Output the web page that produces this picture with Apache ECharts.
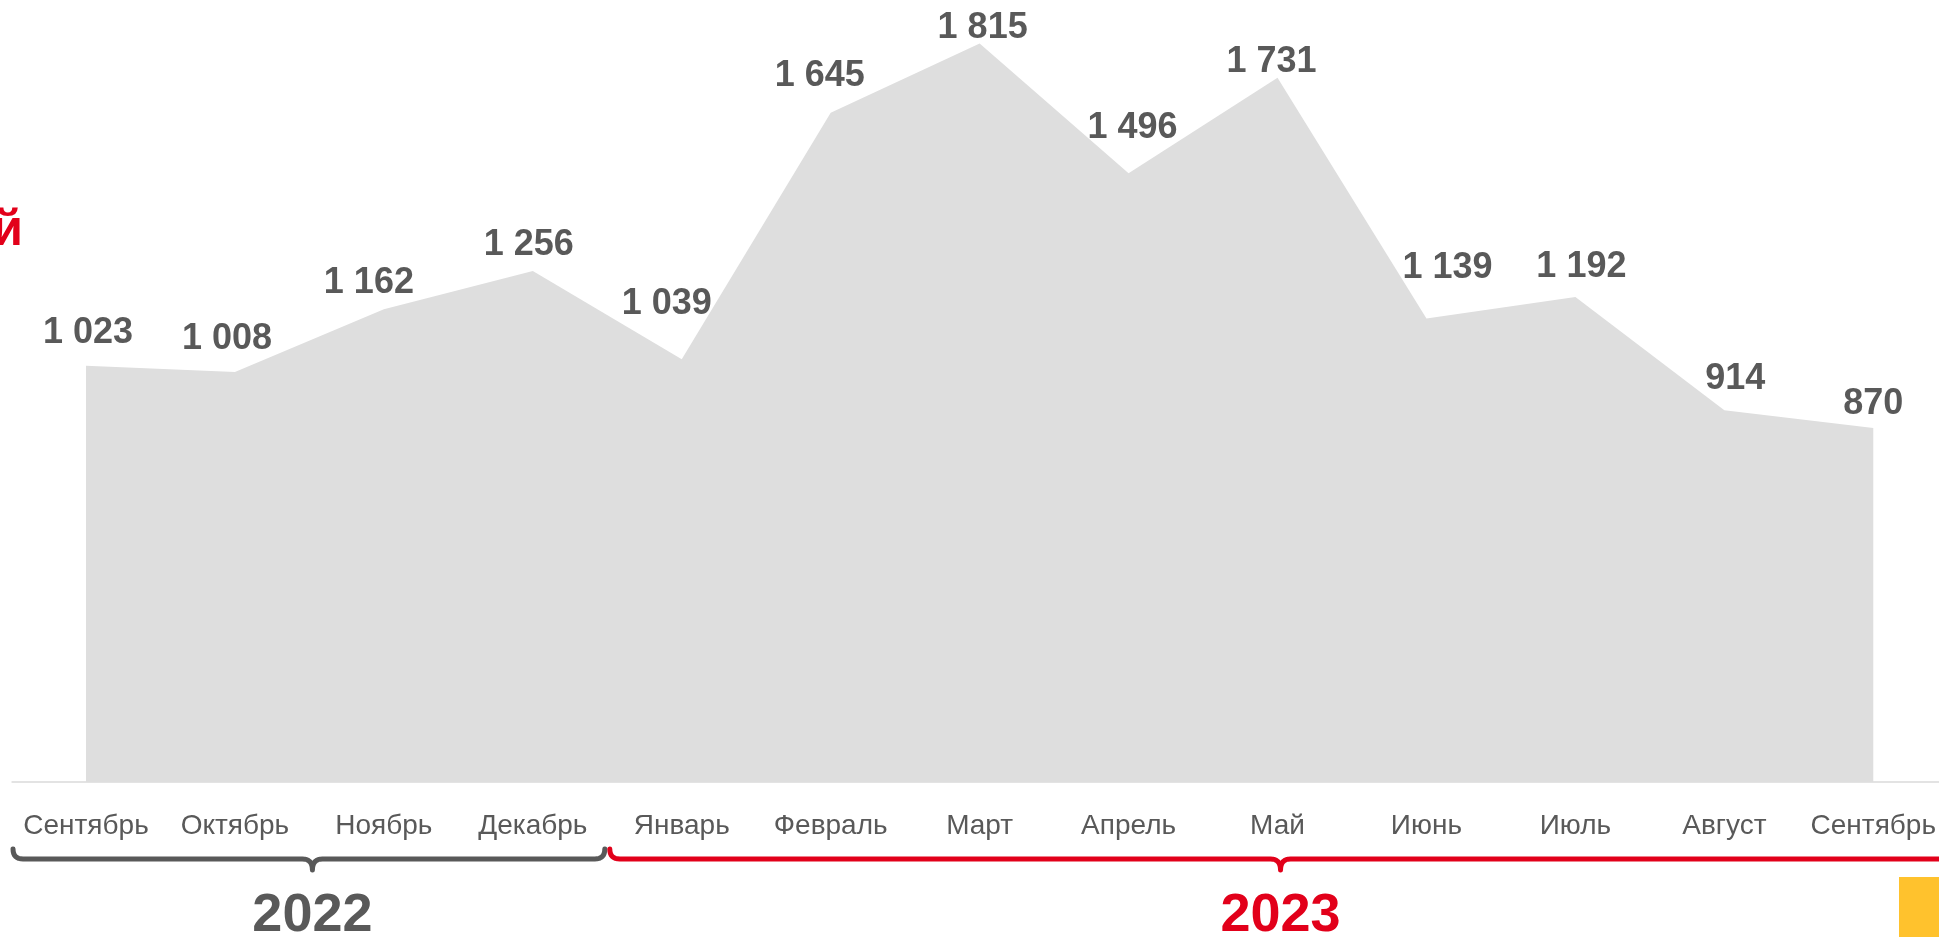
<!DOCTYPE html>
<html>
<head>
<meta charset="utf-8">
<script src="https://cdn.jsdelivr.net/npm/echarts@6/dist/echarts.min.js"></script>
<style>
html,body{margin:0;padding:0;background:#fff;}
#c{width:1939px;height:937px;}
</style>
</head>
<body>
<div id="c"></div>
<script>
// ---- data ----
var categories = ['Сентябрь','Октябрь','Ноябрь','Декабрь','Январь','Февраль','Март','Апрель','Май','Июнь','Июль','Август','Сентябрь'];
var values = [1023, 1008, 1162, 1256, 1039, 1645, 1815, 1496, 1731, 1139, 1192, 914, 870];
var years = ['2022', '2023'];
var yearMonthCounts = [4, 9];

// ---- styling ----
var GRAY = '#595959';
var RED = '#e2001a';
var FONT = '"Liberation Sans", Arial, Helvetica, sans-serif';

function fmt(v) {
  return String(v).replace(/\B(?=(\d{3})+(?!\d))/g, ' ');
}

// label nudges (pure styling: where each value label sits relative to its point)
function labelNudge(i) {
  var n = [[2,-14],[-8,-14],[-15,-8],[-4,-7],[-15,-37],[-11,-18],[3,3],[4,-27],[-6,3],[21,-32],[6,-11],[11,-13],[0,-5]];
  return n[i] || [0, -10];
}

var chart = echarts.init(document.getElementById('c'), null, {renderer: 'canvas'});

var seriesData = values.map(function (v, i) {
  return { value: v, label: { offset: labelNudge(i) } };
});

chart.setOption({
  animation: false,
  backgroundColor: '#ffffff',
  grid: { left: 86, top: 9, right: 65, bottom: 155, containLabel: false },
  xAxis: {
    type: 'category',
    data: categories,
    boundaryGap: false,
    axisTick: { show: false },
    axisLine: { show: false },
    axisLabel: {
      interval: 0,
      color: GRAY,
      fontSize: 28,
      lineHeight: 28,
      fontFamily: FONT,
      margin: 30
    },
    splitLine: { show: false }
  },
  yAxis: {
    type: 'value',
    min: 0,
    max: 1900,
    show: false,
    splitLine: { show: false }
  },
  series: [{
    type: 'line',
    data: seriesData,
    symbol: 'circle',
    symbolSize: 1,
    showSymbol: true,
    showAllSymbol: true,
    itemStyle: { color: 'rgba(0,0,0,0)' },
    lineStyle: { width: 0, opacity: 0 },
    areaStyle: { color: '#dedede', opacity: 1 },
    emphasis: { disabled: true },
    label: {
      show: true,
      position: 'top',
      distance: 0,
      color: GRAY,
      fontSize: 36,
      lineHeight: 36,
      fontWeight: 'bold',
      fontFamily: FONT,
      formatter: function (p) { return fmt(p.value); }
    }
  }]
});

// quadratic curve sampled into points
function quad(p0, p1, p2, n) {
  var pts = [];
  for (var i = 1; i <= n; i++) {
    var t = i / n, u = 1 - t;
    pts.push([u * u * p0[0] + 2 * u * t * p1[0] + t * t * p2[0],
              u * u * p0[1] + 2 * u * t * p1[1] + t * t * p2[1]]);
  }
  return pts;
}

// ---- decorations positioned from the category axis ----
function buildGraphics() {
  var c0 = chart.convertToPixel({ xAxisIndex: 0 }, 0);
  var c1 = chart.convertToPixel({ xAxisIndex: 0 }, 1);
  var band = c1 - c0;
  var start = c0 - band / 2;
  var axisY = chart.convertToPixel({ yAxisIndex: 0 }, 0);
  var y = 859;
  var els = [];
  // baseline axis line spanning all month bands
  els.push({
    type: 'line',
    shape: { x1: start, y1: axisY, x2: 1939, y2: axisY },
    style: { stroke: '#e3e3e3', lineWidth: 2 },
    silent: true
  });
  var colors = [GRAY, RED];
  var idx = 0;
  years.forEach(function (yr, k) {
    var x0 = start + idx * band;
    var x1 = start + (idx + yearMonthCounts[k]) * band;
    var xm = (x0 + x1) / 2 + 3;
    var a = x0 + (k === 0 ? 1.5 : 2.5);
    var b = x1 - (k === 0 ? 2.5 : 0);
    var r = 10;
    var pts = [[a, y - 10]];
    pts = pts.concat(quad([a, y - 10], [a, y], [a + r, y], 8));
    pts.push([xm - r, y]);
    pts = pts.concat(quad([xm - r, y], [xm, y], [xm, y + 11], 8));
    pts = pts.concat(quad([xm, y + 11], [xm, y], [xm + r, y], 8));
    pts.push([b - r, y]);
    pts = pts.concat(quad([b - r, y], [b, y], [b, y - 10], 8));
    els.push({
      type: 'polyline',
      shape: { points: pts },
      style: { fill: null, stroke: colors[k], lineWidth: 5, lineCap: 'round', lineJoin: 'round' },
      silent: true
    });
    els.push({
      type: 'text',
      x: xm, y: 916,
      style: {
        text: yr, fill: colors[k],
        font: 'bold 54px ' + FONT,
        textAlign: 'center', textVerticalAlign: 'middle'
      },
      silent: true
    });
    idx += yearMonthCounts[k];
  });
  // cut-off red title fragment at the left edge
  els.push({
    type: 'text', x: 23, y: 231,
    style: { text: 'й', fill: RED, font: 'bold 50px ' + FONT, textAlign: 'right', textVerticalAlign: 'middle' },
    silent: true
  });
  // yellow page badge at bottom right
  els.push({
    type: 'rect',
    shape: { x: 1899, y: 877, width: 40, height: 60 },
    style: { fill: '#ffc22d' },
    silent: true
  });
  chart.setOption({ graphic: { elements: els } });
}
buildGraphics();
</script>
</body>
</html>
